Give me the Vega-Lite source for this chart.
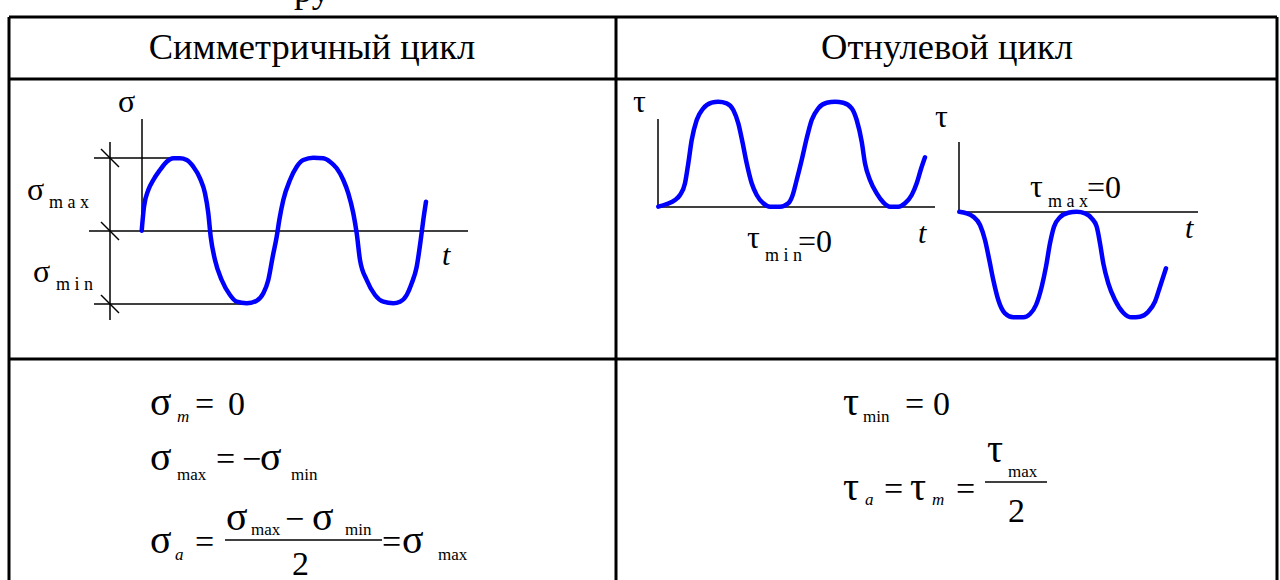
{
  "$schema": "https://vega.github.io/schema/vega-lite/v6.json",
  "width": 1280,
  "height": 580,
  "autosize": "none",
  "padding": 0,
  "background": "white",
  "config": {"view": {"stroke": null}},
  "datasets": {
    "table": [
      {"x": 9, "x2": 1277, "y": 17, "y2": 17},
      {"x": 9, "x2": 1277, "y": 79, "y2": 79},
      {"x": 9, "x2": 1277, "y": 359, "y2": 359},
      {"x": 9, "x2": 9, "y": 17, "y2": 582},
      {"x": 616, "x2": 616, "y": 17, "y2": 582},
      {"x": 1277, "x2": 1277, "y": 17, "y2": 582}
    ],
    "thin": [
      {"x": 142, "x2": 142, "y": 119, "y2": 231},
      {"x": 89, "x2": 468, "y": 231, "y2": 231},
      {"x": 110, "x2": 110, "y": 142, "y2": 320},
      {"x": 94, "x2": 180, "y": 158, "y2": 158},
      {"x": 94, "x2": 245, "y": 304, "y2": 304},
      {"x": 101, "x2": 119, "y": 149, "y2": 167},
      {"x": 101, "x2": 119, "y": 222, "y2": 240},
      {"x": 101, "x2": 119, "y": 295, "y2": 313},
      {"x": 658, "x2": 658, "y": 119, "y2": 207},
      {"x": 959, "x2": 959, "y": 142, "y2": 212},
      {"x": 225, "x2": 382, "y": 540, "y2": 540},
      {"x": 985, "x2": 1047, "y": 482, "y2": 482}
    ],
    "baselines": [
      {"x": 658, "x2": 935, "y": 207, "y2": 207},
      {"x": 959, "x2": 1198, "y": 212, "y2": 212}
    ],
    "curves": [
      {"series": "symmetric", "x": 141.7, "y": 230.7}, {"series": "symmetric", "x": 144, "y": 206.7},
      {"series": "symmetric", "x": 148.3, "y": 190}, {"series": "symmetric", "x": 153.3, "y": 180},
      {"series": "symmetric", "x": 160, "y": 170}, {"series": "symmetric", "x": 166.7, "y": 161.7},
      {"series": "symmetric", "x": 173.3, "y": 158.3}, {"series": "symmetric", "x": 180, "y": 158.3},
      {"series": "symmetric", "x": 186.7, "y": 160}, {"series": "symmetric", "x": 193.3, "y": 166.7},
      {"series": "symmetric", "x": 200, "y": 178.3}, {"series": "symmetric", "x": 205, "y": 193.3},
      {"series": "symmetric", "x": 208.3, "y": 213.3}, {"series": "symmetric", "x": 210.7, "y": 236.7},
      {"series": "symmetric", "x": 215, "y": 260}, {"series": "symmetric", "x": 221.7, "y": 280},
      {"series": "symmetric", "x": 230, "y": 295}, {"series": "symmetric", "x": 236.7, "y": 301.7},
      {"series": "symmetric", "x": 246.7, "y": 303.3}, {"series": "symmetric", "x": 256.7, "y": 300.7},
      {"series": "symmetric", "x": 263.3, "y": 293.3}, {"series": "symmetric", "x": 268.3, "y": 280},
      {"series": "symmetric", "x": 272.7, "y": 256.7}, {"series": "symmetric", "x": 276.7, "y": 236.7},
      {"series": "symmetric", "x": 279.3, "y": 220}, {"series": "symmetric", "x": 283.3, "y": 200},
      {"series": "symmetric", "x": 290, "y": 180}, {"series": "symmetric", "x": 296.7, "y": 166.7},
      {"series": "symmetric", "x": 303.3, "y": 160}, {"series": "symmetric", "x": 313.3, "y": 157.7},
      {"series": "symmetric", "x": 323.3, "y": 158.3}, {"series": "symmetric", "x": 330, "y": 161.7},
      {"series": "symmetric", "x": 336.7, "y": 168.3}, {"series": "symmetric", "x": 343.3, "y": 180},
      {"series": "symmetric", "x": 348.3, "y": 193.3}, {"series": "symmetric", "x": 353.3, "y": 213.3},
      {"series": "symmetric", "x": 356.7, "y": 233.3}, {"series": "symmetric", "x": 360, "y": 260},
      {"series": "symmetric", "x": 366.7, "y": 280}, {"series": "symmetric", "x": 375, "y": 295},
      {"series": "symmetric", "x": 383.3, "y": 301.7}, {"series": "symmetric", "x": 393.3, "y": 303.3},
      {"series": "symmetric", "x": 400, "y": 301.7}, {"series": "symmetric", "x": 406.7, "y": 295},
      {"series": "symmetric", "x": 411.7, "y": 283.3}, {"series": "symmetric", "x": 416.7, "y": 266.7},
      {"series": "symmetric", "x": 420.7, "y": 240}, {"series": "symmetric", "x": 423.3, "y": 220},
      {"series": "symmetric", "x": 426, "y": 201.7},

      {"series": "pulsating_up", "x": 658.3, "y": 206.7}, {"series": "pulsating_up", "x": 666.7, "y": 204},
      {"series": "pulsating_up", "x": 675, "y": 200}, {"series": "pulsating_up", "x": 680, "y": 195},
      {"series": "pulsating_up", "x": 685, "y": 183.3}, {"series": "pulsating_up", "x": 688.3, "y": 163.3},
      {"series": "pulsating_up", "x": 691.7, "y": 140}, {"series": "pulsating_up", "x": 696.7, "y": 120},
      {"series": "pulsating_up", "x": 703.3, "y": 108.3}, {"series": "pulsating_up", "x": 711.7, "y": 102.7},
      {"series": "pulsating_up", "x": 718.3, "y": 101.7}, {"series": "pulsating_up", "x": 726.7, "y": 103.3},
      {"series": "pulsating_up", "x": 733.3, "y": 110}, {"series": "pulsating_up", "x": 738.3, "y": 123.3},
      {"series": "pulsating_up", "x": 742.7, "y": 143.3}, {"series": "pulsating_up", "x": 746.7, "y": 163.3},
      {"series": "pulsating_up", "x": 751.7, "y": 183.3}, {"series": "pulsating_up", "x": 756.7, "y": 195},
      {"series": "pulsating_up", "x": 763.3, "y": 203.3}, {"series": "pulsating_up", "x": 770, "y": 206.7},
      {"series": "pulsating_up", "x": 780, "y": 206.7}, {"series": "pulsating_up", "x": 788.3, "y": 203.3},
      {"series": "pulsating_up", "x": 792.7, "y": 195}, {"series": "pulsating_up", "x": 796.7, "y": 180},
      {"series": "pulsating_up", "x": 801.7, "y": 160}, {"series": "pulsating_up", "x": 806.7, "y": 138.3},
      {"series": "pulsating_up", "x": 811.7, "y": 120}, {"series": "pulsating_up", "x": 818.3, "y": 108.3},
      {"series": "pulsating_up", "x": 826.7, "y": 102.7}, {"series": "pulsating_up", "x": 835, "y": 101.7},
      {"series": "pulsating_up", "x": 843.3, "y": 102.7}, {"series": "pulsating_up", "x": 851.7, "y": 108.3},
      {"series": "pulsating_up", "x": 856.7, "y": 120}, {"series": "pulsating_up", "x": 861.7, "y": 141.7},
      {"series": "pulsating_up", "x": 865, "y": 163.3}, {"series": "pulsating_up", "x": 870, "y": 180},
      {"series": "pulsating_up", "x": 876.7, "y": 193.3}, {"series": "pulsating_up", "x": 883.3, "y": 202.3},
      {"series": "pulsating_up", "x": 890, "y": 206.7}, {"series": "pulsating_up", "x": 898.3, "y": 206.7},
      {"series": "pulsating_up", "x": 905, "y": 203.3}, {"series": "pulsating_up", "x": 911.7, "y": 195},
      {"series": "pulsating_up", "x": 916.7, "y": 183.3}, {"series": "pulsating_up", "x": 920.7, "y": 170},
      {"series": "pulsating_up", "x": 925, "y": 157.3},

      {"series": "pulsating_down", "x": 959.3, "y": 211.7}, {"series": "pulsating_down", "x": 966.7, "y": 213.3},
      {"series": "pulsating_down", "x": 973.3, "y": 216.7}, {"series": "pulsating_down", "x": 980, "y": 225},
      {"series": "pulsating_down", "x": 985, "y": 240}, {"series": "pulsating_down", "x": 989.3, "y": 260},
      {"series": "pulsating_down", "x": 993.3, "y": 280}, {"series": "pulsating_down", "x": 998.3, "y": 300},
      {"series": "pulsating_down", "x": 1005, "y": 313.3}, {"series": "pulsating_down", "x": 1013.3, "y": 317.3},
      {"series": "pulsating_down", "x": 1023.3, "y": 317.3}, {"series": "pulsating_down", "x": 1030, "y": 314},
      {"series": "pulsating_down", "x": 1036, "y": 305}, {"series": "pulsating_down", "x": 1041.7, "y": 286.7},
      {"series": "pulsating_down", "x": 1046, "y": 266.7}, {"series": "pulsating_down", "x": 1050, "y": 243.3},
      {"series": "pulsating_down", "x": 1054, "y": 226.7}, {"series": "pulsating_down", "x": 1060, "y": 217.3},
      {"series": "pulsating_down", "x": 1068.3, "y": 212.7}, {"series": "pulsating_down", "x": 1076.7, "y": 211.7},
      {"series": "pulsating_down", "x": 1085, "y": 213.3}, {"series": "pulsating_down", "x": 1091.7, "y": 218.3},
      {"series": "pulsating_down", "x": 1096.7, "y": 226.7}, {"series": "pulsating_down", "x": 1100, "y": 243.3},
      {"series": "pulsating_down", "x": 1103.3, "y": 263.3}, {"series": "pulsating_down", "x": 1108.3, "y": 283.3},
      {"series": "pulsating_down", "x": 1115, "y": 300}, {"series": "pulsating_down", "x": 1123.3, "y": 312.7},
      {"series": "pulsating_down", "x": 1131.7, "y": 317.3}, {"series": "pulsating_down", "x": 1140, "y": 316.7},
      {"series": "pulsating_down", "x": 1148.3, "y": 311.7}, {"series": "pulsating_down", "x": 1155, "y": 301.7},
      {"series": "pulsating_down", "x": 1160, "y": 286.7}, {"series": "pulsating_down", "x": 1166, "y": 268.3}
    ],
    "fragment": [
      {"x": 312, "y": 2, "text": "ру"}
    ],
    "headers": [
      {"x": 312, "y": 48, "text": "Симметричный цикл"},
      {"x": 947, "y": 48, "text": "Отнулевой цикл"}
    ],
    "labels": [
      {"x": 118, "y": 112, "text": "σ"},
      {"x": 27, "y": 200, "text": "σ"},
      {"x": 33, "y": 282, "text": "σ"},
      {"x": 633, "y": 112, "text": "τ"},
      {"x": 935, "y": 127, "text": "τ"},
      {"x": 747, "y": 248, "text": "τ"},
      {"x": 798, "y": 252, "text": "=0"},
      {"x": 1030, "y": 197, "text": "τ"},
      {"x": 1087, "y": 198, "text": "=0"}
    ],
    "labelSubs": [
      {"x": 49, "y": 208, "text": "m a x"},
      {"x": 56, "y": 290, "text": "m i n"},
      {"x": 765, "y": 261, "text": "m i n"},
      {"x": 1048, "y": 207, "text": "m a x"}
    ],
    "timeLabels": [
      {"x": 442, "y": 265, "text": "t"},
      {"x": 918, "y": 243, "text": "t"},
      {"x": 1185, "y": 238, "text": "t"}
    ],
    "greek": [
      {"x": 150, "y": 415, "text": "σ"},
      {"x": 150, "y": 470, "text": "σ"},
      {"x": 260, "y": 470, "text": "σ"},
      {"x": 150, "y": 553, "text": "σ"},
      {"x": 226, "y": 530, "text": "σ"},
      {"x": 312, "y": 530, "text": "σ"},
      {"x": 402, "y": 553, "text": "σ"},
      {"x": 843, "y": 415, "text": "τ"},
      {"x": 843, "y": 500, "text": "τ"},
      {"x": 910, "y": 500, "text": "τ"},
      {"x": 987, "y": 462, "text": "τ"}
    ],
    "plain": [
      {"x": 195, "y": 415, "text": "="},
      {"x": 228, "y": 415, "text": "0"},
      {"x": 216, "y": 470, "text": "="},
      {"x": 242, "y": 470, "text": "−"},
      {"x": 195, "y": 553, "text": "="},
      {"x": 285, "y": 530, "text": "−"},
      {"x": 292, "y": 575, "text": "2"},
      {"x": 382, "y": 553, "text": "="},
      {"x": 905, "y": 415, "text": "="},
      {"x": 933, "y": 415, "text": "0"},
      {"x": 884, "y": 500, "text": "="},
      {"x": 956, "y": 500, "text": "="},
      {"x": 1008, "y": 522, "text": "2"}
    ],
    "formulaSubs": [
      {"x": 177, "y": 480, "text": "max"},
      {"x": 291, "y": 480, "text": "min"},
      {"x": 251, "y": 535, "text": "max"},
      {"x": 345, "y": 535, "text": "min"},
      {"x": 438, "y": 560, "text": "max"},
      {"x": 863, "y": 422, "text": "min"},
      {"x": 1008, "y": 477, "text": "max"}
    ],
    "formulaItalicSubs": [
      {"x": 177, "y": 422, "text": "m"},
      {"x": 175, "y": 560, "text": "a"},
      {"x": 865, "y": 505, "text": "a"},
      {"x": 932, "y": 505, "text": "m"}
    ]
  },
  "encoding": {
    "x": {"field": "x", "type": "quantitative", "scale": {"domain": [0, 1280], "nice": false, "zero": false}, "axis": null},
    "y": {"field": "y", "type": "quantitative", "scale": {"domain": [0, 580], "reverse": true, "nice": false, "zero": false}, "axis": null}
  },
  "layer": [
    {
      "data": {"name": "table"},
      "mark": {"type": "rule", "color": "black", "strokeWidth": 3},
      "encoding": {"x2": {"field": "x2"}, "y2": {"field": "y2"}}
    },
    {
      "data": {"name": "thin"},
      "mark": {"type": "rule", "color": "black", "strokeWidth": 1.5},
      "encoding": {"x2": {"field": "x2"}, "y2": {"field": "y2"}}
    },
    {
      "data": {"name": "baselines"},
      "mark": {"type": "rule", "color": "#404040", "strokeWidth": 2},
      "encoding": {"x2": {"field": "x2"}, "y2": {"field": "y2"}}
    },
    {
      "data": {"name": "curves"},
      "mark": {"type": "line", "color": "#0000ff", "strokeWidth": 4.5, "interpolate": "monotone", "strokeCap": "round", "strokeJoin": "round"},
      "encoding": {"detail": {"field": "series"}}
    },
    {
      "data": {"name": "fragment"},
      "mark": {"type": "text", "font": "Liberation Serif", "fontSize": 36.5, "align": "center", "baseline": "alphabetic", "color": "black"},
      "encoding": {"text": {"field": "text"}}
    },
    {
      "data": {"name": "headers"},
      "mark": {"type": "text", "font": "Liberation Serif", "fontSize": 36.5, "align": "center", "baseline": "middle", "color": "black"},
      "encoding": {"text": {"field": "text"}}
    },
    {
      "data": {"name": "labels"},
      "mark": {"type": "text", "font": "Liberation Serif", "fontSize": 32, "align": "left", "baseline": "alphabetic", "color": "black"},
      "encoding": {"text": {"field": "text"}}
    },
    {
      "data": {"name": "labelSubs"},
      "mark": {"type": "text", "font": "Liberation Serif", "fontSize": 18, "align": "left", "baseline": "alphabetic", "color": "black"},
      "encoding": {"text": {"field": "text"}}
    },
    {
      "data": {"name": "timeLabels"},
      "mark": {"type": "text", "font": "Liberation Serif", "fontSize": 30, "fontStyle": "italic", "align": "left", "baseline": "alphabetic", "color": "black"},
      "encoding": {"text": {"field": "text"}}
    },
    {
      "data": {"name": "greek"},
      "mark": {"type": "text", "font": "Liberation Serif", "fontSize": 40, "align": "left", "baseline": "alphabetic", "color": "black"},
      "encoding": {"text": {"field": "text"}}
    },
    {
      "data": {"name": "plain"},
      "mark": {"type": "text", "font": "Liberation Serif", "fontSize": 34, "align": "left", "baseline": "alphabetic", "color": "black"},
      "encoding": {"text": {"field": "text"}}
    },
    {
      "data": {"name": "formulaSubs"},
      "mark": {"type": "text", "font": "Liberation Serif", "fontSize": 17, "align": "left", "baseline": "alphabetic", "color": "black"},
      "encoding": {"text": {"field": "text"}}
    },
    {
      "data": {"name": "formulaItalicSubs"},
      "mark": {"type": "text", "font": "Liberation Serif", "fontSize": 17, "fontStyle": "italic", "align": "left", "baseline": "alphabetic", "color": "black"},
      "encoding": {"text": {"field": "text"}}
    }
  ]
}
